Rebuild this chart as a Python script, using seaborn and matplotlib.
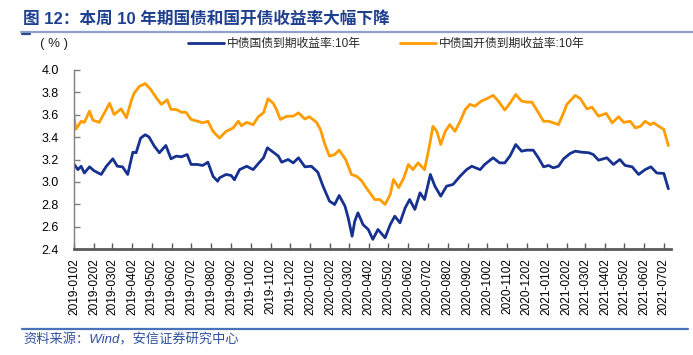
import pandas as pd
import numpy as np
import seaborn as sns
import matplotlib.pyplot as plt
import matplotlib.dates as mdates

# 中债国债到期收益率:10年
cgb_dates = ['2019-01-02', '2019-01-08', '2019-01-13', '2019-01-18', '2019-01-26', '2019-02-02',
             '2019-02-13', '2019-02-21', '2019-03-03', '2019-03-10', '2019-03-18', '2019-03-26',
             '2019-04-03', '2019-04-08', '2019-04-15', '2019-04-22', '2019-04-28', '2019-05-06',
             '2019-05-14', '2019-05-24', '2019-06-01', '2019-06-09', '2019-06-17', '2019-06-26',
             '2019-07-02', '2019-07-12', '2019-07-20', '2019-07-28', '2019-08-05', '2019-08-12',
             '2019-08-15', '2019-08-25', '2019-09-02', '2019-09-07', '2019-09-15', '2019-09-26',
             '2019-10-06', '2019-10-14', '2019-10-22', '2019-10-28', '2019-11-06', '2019-11-14',
             '2019-11-19', '2019-11-29', '2019-12-07', '2019-12-15', '2019-12-25', '2020-01-04',
             '2020-01-14', '2020-01-22', '2020-02-01', '2020-02-09', '2020-02-16', '2020-02-25',
             '2020-03-01', '2020-03-07', '2020-03-11', '2020-03-16', '2020-03-24', '2020-04-01',
             '2020-04-08', '2020-04-16', '2020-04-27', '2020-05-05', '2020-05-12', '2020-05-20',
             '2020-05-28', '2020-06-04', '2020-06-12', '2020-06-20', '2020-06-27', '2020-07-06',
             '2020-07-13', '2020-07-22', '2020-07-31', '2020-08-10', '2020-08-21', '2020-08-31',
             '2020-09-08', '2020-09-21', '2020-09-28', '2020-10-11', '2020-10-21', '2020-10-29',
             '2020-11-06', '2020-11-15', '2020-11-24', '2020-12-02', '2020-12-12', '2020-12-20',
             '2020-12-28', '2021-01-05', '2021-01-12', '2021-01-20', '2021-01-28', '2021-02-07',
             '2021-02-15', '2021-02-25', '2021-03-08', '2021-03-15', '2021-03-23', '2021-04-05',
             '2021-04-15', '2021-04-25', '2021-05-03', '2021-05-14', '2021-05-24', '2021-06-03',
             '2021-06-12', '2021-06-21', '2021-07-02', '2021-07-07', '2021-07-09']
cgb_yield = [3.16, 3.11, 3.14, 3.08, 3.135, 3.10,
             3.067, 3.14, 3.206, 3.14, 3.135, 3.067,
             3.265, 3.26, 3.39, 3.42, 3.40, 3.32,
             3.26, 3.325, 3.206, 3.23, 3.224, 3.244,
             3.156, 3.156, 3.147, 3.176, 3.05, 3.007,
             3.037, 3.067, 3.058, 3.02, 3.11, 3.14,
             3.11, 3.164, 3.215, 3.304, 3.265, 3.23,
             3.176, 3.20, 3.17, 3.215, 3.135, 3.14,
             3.087, 2.963, 2.83, 2.80, 2.88, 2.785,
             2.68, 2.518, 2.65, 2.726, 2.62, 2.578,
             2.49, 2.578, 2.504, 2.622, 2.696, 2.637,
             2.77, 2.844, 2.756, 2.904, 2.844, 3.067,
             2.963, 2.874, 2.963, 2.978, 3.052, 3.11,
             3.14, 3.11, 3.156, 3.215, 3.17, 3.17,
             3.23, 3.333, 3.274, 3.283, 3.283, 3.215,
             3.135, 3.147, 3.126, 3.14, 3.206, 3.253,
             3.274, 3.265, 3.26, 3.244, 3.194, 3.215,
             3.156, 3.20, 3.147, 3.135, 3.067, 3.11,
             3.135, 3.08, 3.076, 2.978, 2.94]

# 中债国开债到期收益率:10年
cdb_dates = ['2019-01-02', '2019-01-05', '2019-01-13', '2019-01-18', '2019-01-26', '2019-01-31',
             '2019-02-10', '2019-02-18', '2019-02-26', '2019-03-05', '2019-03-16', '2019-03-24',
             '2019-04-01', '2019-04-05', '2019-04-13', '2019-04-22', '2019-05-01', '2019-05-09',
             '2019-05-17', '2019-05-26', '2019-06-01', '2019-06-09', '2019-06-17', '2019-06-24',
             '2019-07-02', '2019-07-12', '2019-07-20', '2019-07-28', '2019-08-05', '2019-08-15',
             '2019-08-25', '2019-09-05', '2019-09-13', '2019-09-18', '2019-09-26', '2019-10-06',
             '2019-10-14', '2019-10-22', '2019-10-29', '2019-11-06', '2019-11-11', '2019-11-17',
             '2019-11-27', '2019-12-07', '2019-12-15', '2019-12-25', '2020-01-01', '2020-01-12',
             '2020-01-18', '2020-01-25', '2020-02-01', '2020-02-09', '2020-02-16', '2020-02-26',
             '2020-03-06', '2020-03-14', '2020-03-21', '2020-03-29', '2020-04-11', '2020-04-19',
             '2020-04-27', '2020-05-05', '2020-05-10', '2020-05-18', '2020-05-26', '2020-06-02',
             '2020-06-09', '2020-06-17', '2020-06-27', '2020-07-04', '2020-07-10', '2020-07-16',
             '2020-07-22', '2020-07-29', '2020-08-05', '2020-08-13', '2020-08-21', '2020-08-29',
             '2020-09-05', '2020-09-13', '2020-09-23', '2020-10-01', '2020-10-11', '2020-10-19',
             '2020-10-29', '2020-11-06', '2020-11-15', '2020-11-24', '2020-12-02', '2020-12-10',
             '2020-12-17', '2020-12-28', '2021-01-05', '2021-01-12', '2021-01-20', '2021-01-28',
             '2021-02-02', '2021-02-15', '2021-02-23', '2021-03-05', '2021-03-13', '2021-03-23',
             '2021-04-04', '2021-04-13', '2021-04-23', '2021-05-01', '2021-05-11', '2021-05-19',
             '2021-05-27', '2021-06-03', '2021-06-11', '2021-06-16', '2021-06-24', '2021-07-02',
             '2021-07-07', '2021-07-09']
cdb_yield = [3.58, 3.47, 3.54, 3.53, 3.63, 3.55,
             3.53, 3.615, 3.70, 3.60, 3.65, 3.57,
             3.73, 3.79, 3.85, 3.875, 3.82, 3.75,
             3.69, 3.73, 3.645, 3.645, 3.62, 3.62,
             3.556, 3.54, 3.526, 3.54, 3.45, 3.39,
             3.45, 3.48, 3.54, 3.50, 3.53, 3.51,
             3.58, 3.615, 3.74, 3.70, 3.645, 3.556,
             3.585, 3.585, 3.615, 3.56, 3.58, 3.53,
             3.467, 3.333, 3.23, 3.244, 3.283, 3.20,
             3.067, 3.05, 3.016, 2.948, 2.844, 2.844,
             2.80, 2.89, 3.022, 2.95, 3.037, 3.156,
             3.11, 3.17, 3.11, 3.304, 3.496, 3.45,
             3.333, 3.45, 3.51, 3.45, 3.54, 3.645,
             3.69, 3.674, 3.72, 3.74, 3.77, 3.72,
             3.64, 3.70, 3.778, 3.72, 3.71, 3.71,
             3.645, 3.54, 3.54, 3.526, 3.51, 3.615,
             3.69, 3.77, 3.74, 3.65, 3.665, 3.585,
             3.61, 3.526, 3.58, 3.53, 3.54, 3.48,
             3.496, 3.54, 3.51, 3.526, 3.496, 3.467,
             3.363, 3.324]

series_names = ['中债国债到期收益率:10年', '中债国开债到期收益率:10年']
series_colors = ['#16318f', '#ff9c00']

df = pd.concat([
    pd.DataFrame({'date': pd.to_datetime(cgb_dates), 'yield': cgb_yield, 'series': series_names[0]}),
    pd.DataFrame({'date': pd.to_datetime(cdb_dates), 'yield': cdb_yield, 'series': series_names[1]}),
])

sns.set_theme(style='ticks')
plt.rcParams['font.family'] = ['Liberation Sans', 'Noto Sans CJK SC', 'DejaVu Sans']
plt.rcParams['axes.unicode_minus'] = False

fig = plt.figure(figsize=(6.93, 3.55), dpi=100)
ax = fig.add_axes([0.1068, 0.2972, 0.8614, 0.507])

sns.lineplot(data=df, x='date', y='yield', hue='series', hue_order=series_names,
             palette=series_colors, linewidth=2.0, ax=ax, legend=False)

ax.set_ylim(2.4, 4.0)
ax.set_yticks(np.arange(2.4, 4.01, 0.2))
ax.yaxis.set_major_formatter(plt.FormatStrFormatter('%.1f'))
ax.set_xlim(pd.Timestamp('2019-01-02'), pd.Timestamp('2021-07-13'))
tick_dates = pd.date_range('2019-01-01', '2021-07-01', freq='MS') + pd.Timedelta(days=1)
ax.set_xticks(tick_dates)
ax.xaxis.set_major_formatter(mdates.DateFormatter('%Y-%m%d'))
ax.set_xlabel('')
ax.set_ylabel('')

for s in ['top', 'right']:
    ax.spines[s].set_visible(False)
ax.spines['left'].set_color('#7f7f7f')
ax.spines['left'].set_linewidth(1.0)
ax.spines['bottom'].set_color('#595959')
ax.spines['bottom'].set_linewidth(2.0)
ax.tick_params(axis='y', direction='in', length=4, width=1, color='#7f7f7f',
               labelsize=9, pad=11, labelcolor='#000000')
ax.tick_params(axis='x', direction='in', length=4, width=1, color='#595959',
               labelsize=8.6, pad=6, labelrotation=90, labelcolor='#000000')

# legend
handles = [plt.Line2D([], [], color=c, linewidth=2.0) for c in series_colors]
fig.legend(handles, series_names, loc='center left', bbox_to_anchor=(0.265, 0.876),
           ncol=2, frameon=False, fontsize=8.5, handlelength=3.0, handletextpad=0.3,
           columnspacing=3.3, borderaxespad=0)

fig.text(0.057, 0.876, '( % )', fontsize=9.5, va='center', ha='left')

# title and decorations
fig.text(0.033, 0.947, '图 12：本周 10 年期国债和国开债收益率大幅下降', fontsize=12,
         fontweight='bold', color='#1f3f8f', va='center', ha='left')
fig.add_artist(plt.Line2D([0.03, 1.0], [0.911, 0.911], color='#8ea2cf', linewidth=1.6))
fig.add_artist(plt.Line2D([0.032, 0.044], [0.905, 0.905], color='#2b4a94', linewidth=1.6))
fig.add_artist(plt.Line2D([0.032, 0.993], [0.073, 0.073], color='#4a72b8', linewidth=1.6))
fig.text(0.033, 0.042, '资料来源：Wind，安信证券研究中心', fontsize=9.5, style='italic',
         color='#2f50a0', va='center', ha='left')

fig.savefig('out.png', dpi=100)
